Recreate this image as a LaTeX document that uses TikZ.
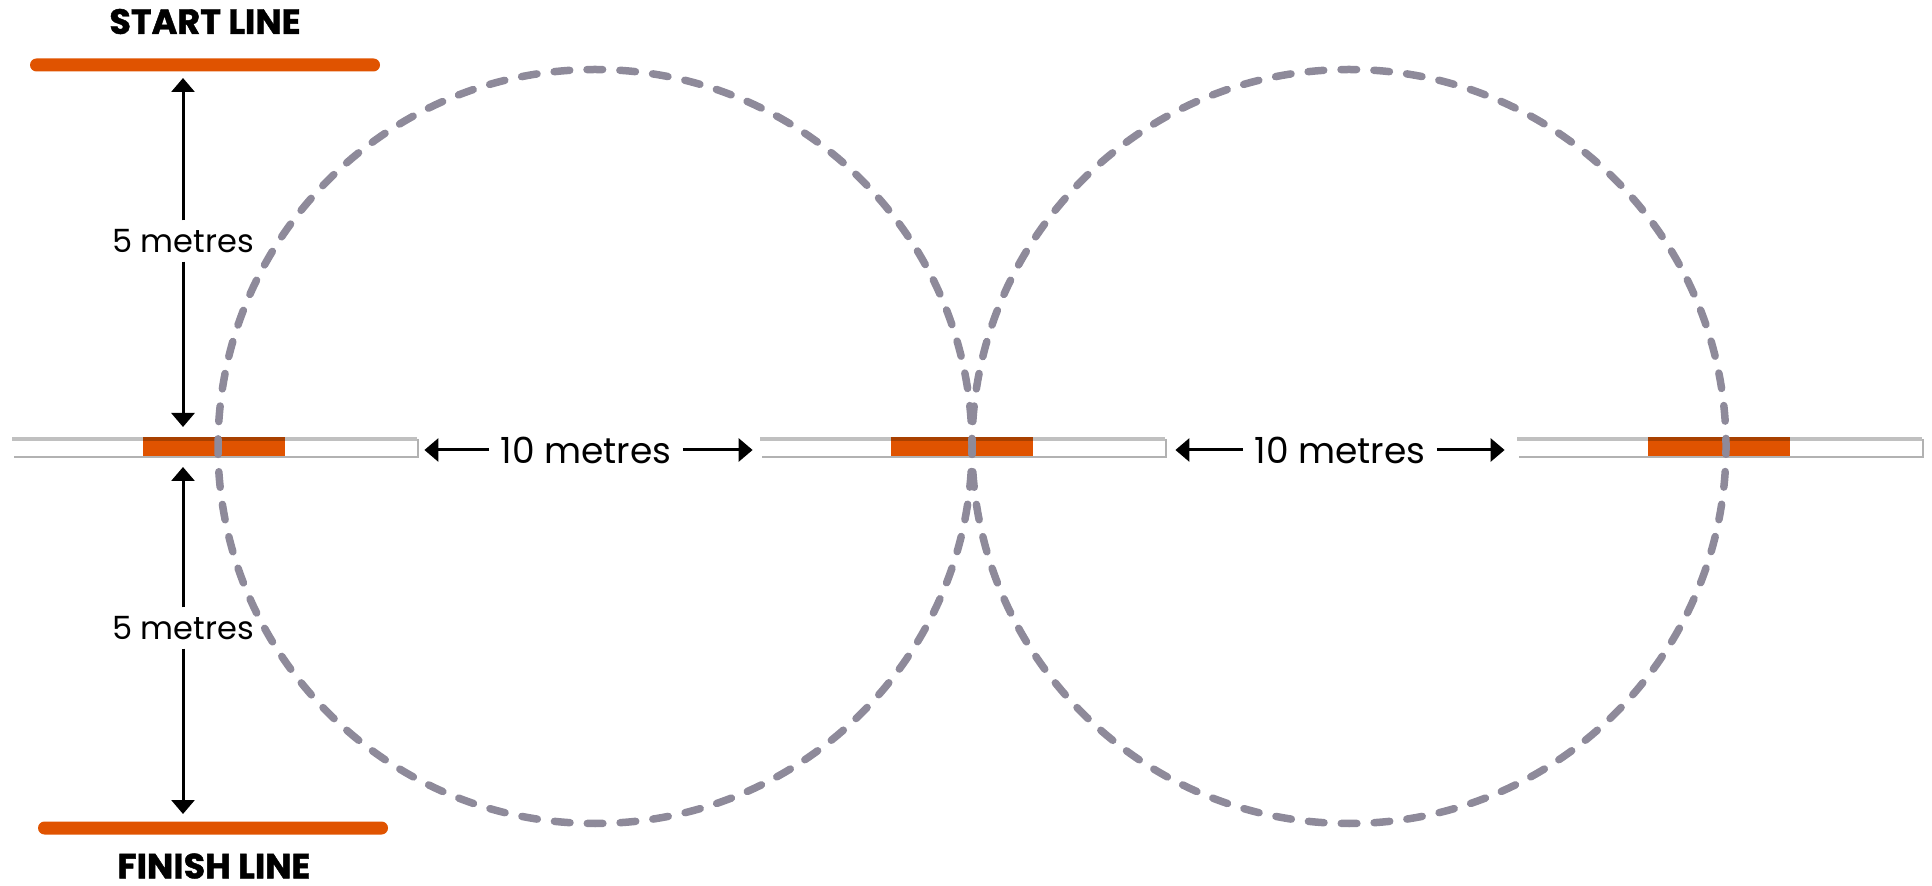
\documentclass[tikz,border=0pt]{standalone}
\usepackage{fontspec}
\setmainfont{Poppins}
\newfontfamily\heavyfont{Poppins}[BoldFeatures={FakeBold=1.3}]
\usetikzlibrary{arrows.meta,shadows}
\definecolor{orng}{RGB}{224,83,0}
\definecolor{dorng}{RGB}{168,64,0}
\definecolor{ring}{RGB}{142,138,154}
\definecolor{bargray}{RGB}{192,192,192}
\begin{document}
\begin{tikzpicture}[x=0.5pt,y=-0.5pt,
  linebar/.style={fill=orng,rounded corners=3.25pt,minimum width=175pt,minimum height=6.5pt,inner sep=0pt},
  title/.style={font=\heavyfont\bfseries\fontsize{17.5}{20}\selectfont,inner sep=0pt},
  bar/.style={fill=white,minimum width=202.5pt,minimum height=9.5pt,inner sep=0pt,
    drop shadow={shadow xshift=1pt,shadow yshift=-1pt,fill=black!30,opacity=1}},
  block/.style={fill=orng,minimum width=71pt,minimum height=9.5pt,inner sep=0pt},
  ringline/.style={draw=ring,line width=3.75pt,line cap=round,dash pattern=on 7.8pt off 8.65pt,dash phase=3.9pt},
  arr/.style={-{Triangle[length=7pt,width=11.5pt]},line width=1.5pt},
  vlab/.style={font=\fontsize{16}{18}\selectfont,inner xsep=0pt,inner ysep=4.25pt},
  hlab/.style={font=\fontsize{18}{20}\selectfont,inner xsep=5.5pt,inner ysep=0pt}]
\useasboundingbox (0,0) rectangle (1932,886);
% start / finish lines
\node[linebar] (start) at (205,65) {};
\node[title] (starttxt) at (205,21.5) {START LINE};
\node[linebar] (finish) at (213,828) {};
\node[title] (finishtxt) at (214,866) {FINISH LINE};
% bars
\foreach \n/\bx/\ox in {1/214.5/214,2/962.5/962,3/1719.5/1719}{
  \node[bar] (bar\n) at (\bx,446.5) {};
  \fill[bargray] (bar\n.north west) rectangle ([yshift=-2pt]bar\n.north east);
  \node[block] (blk\n) at (\ox,446.5) {};
  \fill[dorng] (blk\n.north west) rectangle ([yshift=-2pt]blk\n.north east);
}
% circles
\coordinate (c1) at (595,446.5);
\coordinate (c2) at (1349,446.5);
\draw[ringline] (c1) circle[radius=377];
\draw[ringline] (c2) circle[radius=377];
% vertical dimension arrows
\node[vlab] (up5) at (183,241) {5 metres};
\node[vlab] (dn5) at (183,628) {5 metres};
\coordinate (upT) at (183,78);
\coordinate (upB) at (183,427);
\coordinate (dnT) at (183,467);
\coordinate (dnB) at (183,814);
\draw[arr] (up5.north) -- (upT);
\draw[arr] (up5.south) -- (upB);
\draw[arr] (dn5.north) -- (dnT);
\draw[arr] (dn5.south) -- (dnB);
% horizontal dimension arrows
\node[hlab] (h1) at (586,450) {10 metres};
\node[hlab] (h2) at (1340,450) {10 metres};
\draw[arr] (h1.west) -- ([xshift=3.5pt]bar1.east |- h1.west);
\draw[arr] (h1.east) -- ([xshift=-3.5pt]bar2.west |- h1.east);
\draw[arr] (h2.west) -- ([xshift=5pt]bar2.east |- h2.west);
\draw[arr] (h2.east) -- ([xshift=-6pt]bar3.west |- h2.east);
\end{tikzpicture}
\end{document}
